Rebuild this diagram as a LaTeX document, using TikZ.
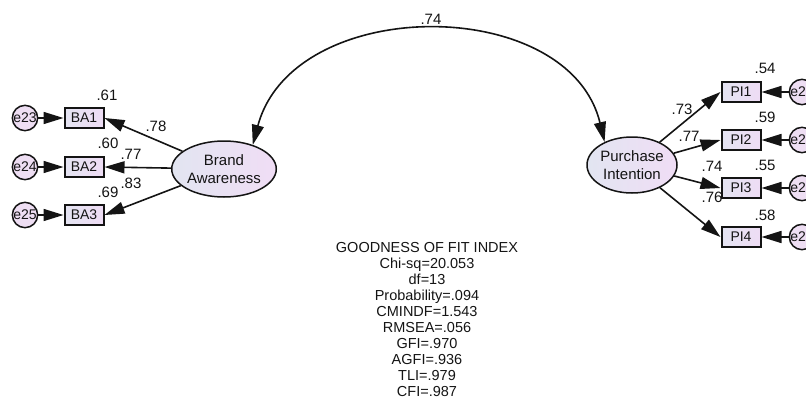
\documentclass[tikz,border=0pt]{standalone}
\usepackage{fontspec}
\setmainfont{Liberation Sans}
\usetikzlibrary{arrows.meta,shapes.geometric}
\definecolor{ellL}{RGB}{226,229,241}
\definecolor{ellR}{RGB}{240,221,245}
\definecolor{boxL}{RGB}{228,228,242}
\definecolor{boxR}{RGB}{238,220,244}
\definecolor{errF}{RGB}{238,222,243}
\definecolor{ink}{RGB}{20,20,20}
\begin{document}
\begin{tikzpicture}[x=1pt,y=-1pt,
  lat/.style={ellipse, draw=ink, line width=1.5pt, minimum width=90pt, minimum height=56pt, inner sep=0pt, left color=ellL, right color=ellR, align=center, text=ink, font=\fontsize{15}{17.5}\selectfont},
  obs/.style={rectangle, draw=ink, line width=2pt, minimum width=39pt, minimum height=19.5pt, inner sep=0pt, left color=boxL, right color=boxR, text=ink, font=\fontsize{14}{14}\selectfont},
  err/.style={circle, draw=ink, line width=1.5pt, minimum size=25pt, inner sep=0pt, fill=errF, text=ink, font=\fontsize{14}{14}\selectfont},
  lbl/.style={inner sep=0pt, text=ink, font=\fontsize{15}{15}\selectfont},
  arr/.style={draw=ink, line width=1.6pt, -{Triangle[length=20pt,width=12pt]}},
  dbl/.style={draw=ink, line width=1.6pt, {Triangle[length=20pt,width=12pt]}-{Triangle[length=20pt,width=12pt]}},
]
\useasboundingbox (0,0) rectangle (806,412);
\clip (0,0) rectangle (806,412);

% labels
\node[lbl] (l74) at (431,19) {.74};
\node[lbl] (l61) at (107,95) {.61};
\node[lbl] (l60) at (108,143) {.60};
\node[lbl] (l69) at (108,192) {.69};
\node[lbl] (l78) at (156,126) {.78};
\node[lbl] (l77a) at (131,154) {.77};
\node[lbl] (l83) at (131,183) {.83};
\node[lbl] (l54) at (765,68) {.54};
\node[lbl] (l59) at (765,117) {.59};
\node[lbl] (l55) at (765,165) {.55};
\node[lbl] (l58) at (765,215) {.58};
\node[lbl] (l73) at (682,109) {.73};
\node[lbl] (l77b) at (689,136) {.77};
\node[lbl] (l74b) at (712,166) {.74};
\node[lbl] (l76) at (712,197) {.76};

% latent
\node[lat] (BA) at (224,169) {Brand\\Awareness};
\node[lat] (PI) at (632,165) {Purchase\\Intention};

% observed
\node[obs] (BA1) at (84,118) {BA1};
\node[obs] (BA2) at (84,167) {BA2};
\node[obs] (BA3) at (84,215) {BA3};
\node[obs] (PI1) at (741,92) {PI1};
\node[obs] (PI2) at (741,140) {PI2};
\node[obs] (PI3) at (741,188) {PI3};
\node[obs] (PI4) at (741,237) {PI4};

% errors
\node[err] (e23) at (25,118) {e23};
\node[err] (e24) at (25,167) {e24};
\node[err] (e25) at (25,215) {e25};
\node[err] (e26) at (802,92) {e26};
\node[err] (e27) at (802,140) {e27};
\node[err] (e28) at (802,188) {e28};
\node[err] (e29) at (802,237) {e29};

% paths
\draw[arr] (e23) -- (BA1);
\draw[arr] (e24) -- (BA2);
\draw[arr] (e25) -- (BA3);
\draw[arr] (e26) -- (PI1);
\draw[arr] (e27) -- (PI2);
\draw[arr] (e28) -- (PI3);
\draw[arr] (e29) -- (PI4);
\draw[arr] (BA) -- (BA1.east);
\draw[arr] (BA) -- (BA2.east);
\draw[arr] (BA) -- (BA3.east);
\draw[arr] (PI) -- (PI1.west);
\draw[arr] (PI) -- (PI2.west);
\draw[arr] (PI) -- (PI3.west);
\draw[arr] (PI) -- (PI4.west);

% covariance
\draw[dbl] (BA.40) .. controls (293,-6) and (569,-6) .. (PI.140);

% fit index
\node[inner sep=0pt, anchor=north, align=center, text=ink, font=\fontsize{14.5}{16}\selectfont] (gof) at (427,241.8)
 {GOODNESS OF FIT INDEX\\Chi-sq=20.053\\df=13\\Probability=.094\\CMINDF=1.543\\RMSEA=.056\\GFI=.970\\AGFI=.936\\TLI=.979\\CFI=.987};
\end{tikzpicture}
\end{document}
